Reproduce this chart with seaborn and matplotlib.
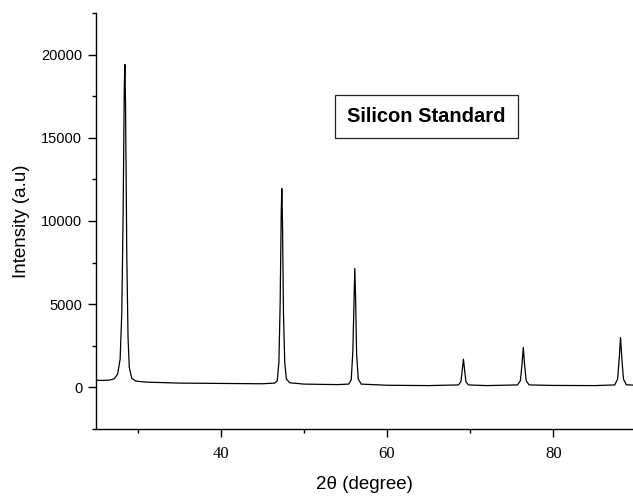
import matplotlib
matplotlib.use("Agg")
import matplotlib.pyplot as plt
import pandas as pd
import numpy as np
import seaborn as sns
from matplotlib.ticker import MultipleLocator

# XRD scan of the silicon standard
two_theta = [25.0, 25.8, 26.6, 27.2, 27.6, 27.9, 28.1, 28.25, 28.4, 28.47, 28.55, 28.7, 28.85,
             29.0, 29.3, 29.8, 31.0, 35.0, 40.0, 45.0, 46.5, 46.8, 47.0, 47.15, 47.28, 47.35,
             47.43, 47.55, 47.7, 47.9, 48.3, 50.0, 54.0, 55.4, 55.7, 55.9, 56.05, 56.13, 56.22,
             56.35, 56.55, 56.9, 60.0, 65.0, 68.6, 68.9, 69.05, 69.2, 69.35, 69.5, 69.8, 72.0,
             75.7, 76.05, 76.25, 76.4, 76.55, 76.75, 77.1, 80.0, 85.0, 87.4, 87.75, 87.95, 88.1,
             88.25, 88.45, 88.8, 89.6]
intensity = [430, 420, 440, 520, 800, 1700, 4500, 10000, 18000, 19400, 17000, 8000, 3000,
             1200, 550, 380, 320, 260, 240, 220, 260, 400, 1500, 5000, 10500, 11950,
             10000, 4500, 1500, 500, 280, 200, 170, 200, 450, 2200, 5500, 7150, 5500,
             2000, 500, 200, 130, 110, 150, 350, 1000, 1700, 1000, 350, 150, 110,
             150, 400, 1400, 2400, 1400, 400, 150, 120, 110, 150, 500, 1800, 3000,
             1800, 500, 160, 140]

df = pd.DataFrame({"2theta": two_theta, "I": intensity})

sns.set_style("ticks")
plt.rcParams["font.family"] = ["Liberation Sans", "DejaVu Sans"]
plt.rcParams.update({"text.color": "black", "axes.labelcolor": "black",
                     "xtick.color": "black", "ytick.color": "black"})

fig = plt.figure(figsize=(6.33, 4.96), dpi=100)
ax = fig.add_axes([0.1517, 0.135, 0.8483, 0.839])

sns.lineplot(data=df, x="2theta", y="I", color="black", linewidth=0.9, ax=ax)

ax.set_xlim(25, 89.6)
ax.set_ylim(-2500, 22500)
ax.xaxis.set_major_locator(MultipleLocator(20))
ax.xaxis.set_minor_locator(MultipleLocator(10))
ax.set_yticks([0, 5000, 10000, 15000, 20000])
ax.set_yticks([-2500, 2500, 7500, 12500, 17500, 22500], minor=True)

for s in ["top", "right"]:
    ax.spines[s].set_visible(False)
for s in ["left", "bottom"]:
    ax.spines[s].set_linewidth(1.0)
    ax.spines[s].set_color("black")

ax.tick_params(axis="both", which="major", direction="out", length=6, width=1.0, color="black")
ax.tick_params(axis="both", which="minor", direction="out", length=3, width=1.0, color="black")
ax.tick_params(axis="y", labelsize=10.5, pad=4, labelcolor="black")
ax.tick_params(axis="x", labelsize=12, pad=6, labelcolor="black")
for lab in ax.get_xticklabels():
    lab.set_family(["Liberation Serif", "DejaVu Serif"])

ax.set_xlabel("2θ (degree)", fontsize=13.5, labelpad=10, color="black")
ax.set_ylabel("Intensity (a.u)", fontsize=13.5, labelpad=8, color="black")

ax.text(0.6155, 0.752, "Silicon Standard", transform=ax.transAxes, ha="center", va="center",
        fontsize=14.5, fontweight="bold", color="black",
        bbox=dict(facecolor="white", edgecolor="#222222", linewidth=0.9, boxstyle="square,pad=0.6"))

fig.savefig("out.png", dpi=100)
